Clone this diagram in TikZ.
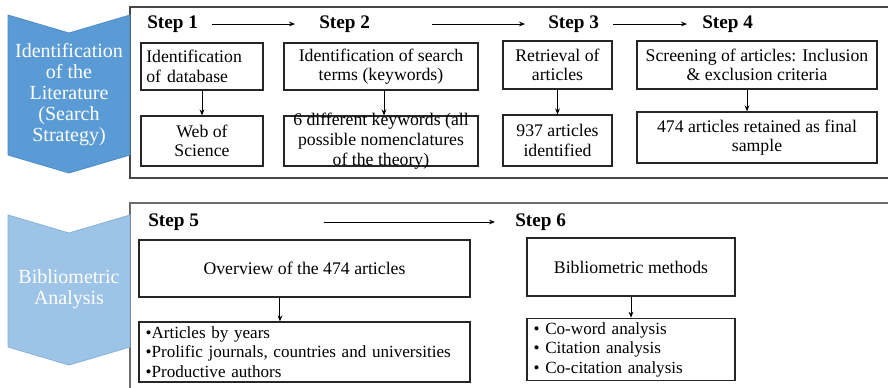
\documentclass[tikz,border=0pt]{standalone}
\usepackage{fontspec}
\setmainfont{Liberation Serif}
\usetikzlibrary{positioning, arrows.meta}

\definecolor{stageblue}{HTML}{5B9BD5}
\definecolor{stageedge}{HTML}{4F8CC6}
\definecolor{paleblue}{HTML}{9DC3E6}
\definecolor{paleedge}{HTML}{86B2DB}
\definecolor{framegray}{HTML}{474747}

\begin{document}
\begin{tikzpicture}[
    x=0.75pt, y=-0.75pt,
    % cajas de texto con borde negro fino
    box/.style={
        rectangle,
        draw=black!85,
        line width=0.9pt,
        align=center,
        inner sep=3pt,
        font=\fontsize{13.3}{14.6}\selectfont
    },
    listbox/.style={box, align=left, inner xsep=5pt, font=\fontsize{12.8}{14.6}\selectfont},
    steplbl/.style={anchor=west, inner sep=0pt, font=\fontsize{14.4}{16}\selectfont\bfseries},
    stagelbl/.style={align=center, text=white, font=\fontsize{15}{15.75}\selectfont},
    frame/.style={draw=framegray, line width=1.4pt},
    arr/.style={->, >={Stealth[length=4.5pt, width=3.6pt]}, line width=0.75pt, draw=black}
]

    \clip (0,0) rectangle (888,387);
    \fill[white] (0,0) rectangle (888,387);

    % --- MARCOS ---
    \draw[frame] (130,7) rectangle (900,178);
    \draw[frame, draw=framegray!80] (130,203) rectangle (900,400);

    % --- CHEVRONES ---
    \path[fill=stageblue, draw=stageedge, line width=0.6pt]
        (8,15) -- (69,33) -- (130,15) -- (130,155) -- (69,173) -- (8,155) -- cycle;
    \path[fill=paleblue, draw=paleedge, line width=0.6pt]
        (8,215) -- (69,233) -- (130,215) -- (130,347) -- (69,365) -- (8,347) -- cycle;
    \node[stagelbl] (ident) at (69,95) {Identification\\of the\\Literature\\(Search\\Strategy)};
    \node[stagelbl] (biblio) at (69,289) {Bibliometric\\Analysis};

    % --- PASOS ---
    \node[steplbl] (s1) at (147,24) {Step 1};
    \node[steplbl] (s2) at (319,24) {Step 2};
    \node[steplbl] (s3) at (548,24) {Step 3};
    \node[steplbl] (s4) at (702,24) {Step 4};
    \node[steplbl] (s5) at (148,222) {Step 5};
    \node[steplbl] (s6) at (515,222) {Step 6};

    \draw[arr] ([xshift=10.5pt]s1.east) -- ([xshift=-18pt]s2.west);
    \draw[arr] ([xshift=46.5pt]s2.east) -- ([xshift=-17.25pt]s3.west);
    \draw[arr] ([xshift=10.5pt]s3.east) -- ([xshift=-11.25pt]s4.west);
    \draw[arr] ([xshift=93.75pt]s5.east) -- ([xshift=-15pt]s6.west);

    % --- CAJAS SUPERIORES ---
    \node[box, minimum width=91.5pt, minimum height=35.25pt, text width=83.5pt, align=left] (db) at (202,66.5) {Identification\\of database};
    \node[box, minimum width=91.5pt, minimum height=37.5pt] (wos) at (202,141) {Web of\\Science};

    \node[box, minimum width=145.5pt, minimum height=35.25pt] (terms) at (381,66.5) {Identification of search\\terms (keywords)};
    \node[box, minimum width=145.5pt, minimum height=37.5pt,
        label={[align=center, inner sep=0pt, font=\fontsize{13.3}{15}\selectfont]center:6 different keywords (all\\possible nomenclatures\\of the theory)}] (kw) at (381,141) {};

    \node[box, minimum width=81.75pt, minimum height=36pt] (retr) at (557.5,65) {Retrieval of\\articles};
    \node[box, minimum width=81.75pt, minimum height=38.25pt] (found) at (557.5,140.5) {937 articles\\identified};

    \node[box, minimum width=180pt, minimum height=36pt] (screen) at (757,65) {Screening of articles: Inclusion\\\& exclusion criteria};
    \node[box, minimum width=180pt, minimum height=38.25pt] (final) at (757,137.5) {474 articles retained as final\\sample};

    \draw[arr] (db.south) -- (wos.north);
    \draw[arr] ([xshift=2.25pt]terms.south) -- ([xshift=2.25pt]kw.north);
    \draw[arr] (retr.south) -- (found.north);
    \draw[arr] ([xshift=-7.5pt]screen.south) -- ([xshift=-7.5pt]final.north);

    % --- CAJAS INFERIORES ---
    \node[box, minimum width=248.25pt, minimum height=42.75pt] (overview) at (304.5,268.5) {Overview of the 474 articles};
    \node[listbox, minimum width=248.25pt, minimum height=45pt, text width=238.25pt] (lists) at (304.5,352)
        {\textbullet Articles by years\\\textbullet Prolific journals, countries and universities\\\textbullet Productive authors};

    \node[box, minimum width=156pt, minimum height=43.5pt] (methods) at (631,267) {Bibliometric methods};
    \node[listbox, minimum width=156pt, minimum height=44.25pt, text width=146pt] (analyses) at (631,349.5)
        {\textbullet\ Co-word analysis\\\textbullet\ Citation analysis\\\textbullet\ Co-citation analysis};

    \draw[arr] ([xshift=-18.4pt]overview.south) -- ([xshift=-18.4pt]lists.north);
    \draw[arr] (methods.south) -- (analyses.north);

\end{tikzpicture}
\end{document}
